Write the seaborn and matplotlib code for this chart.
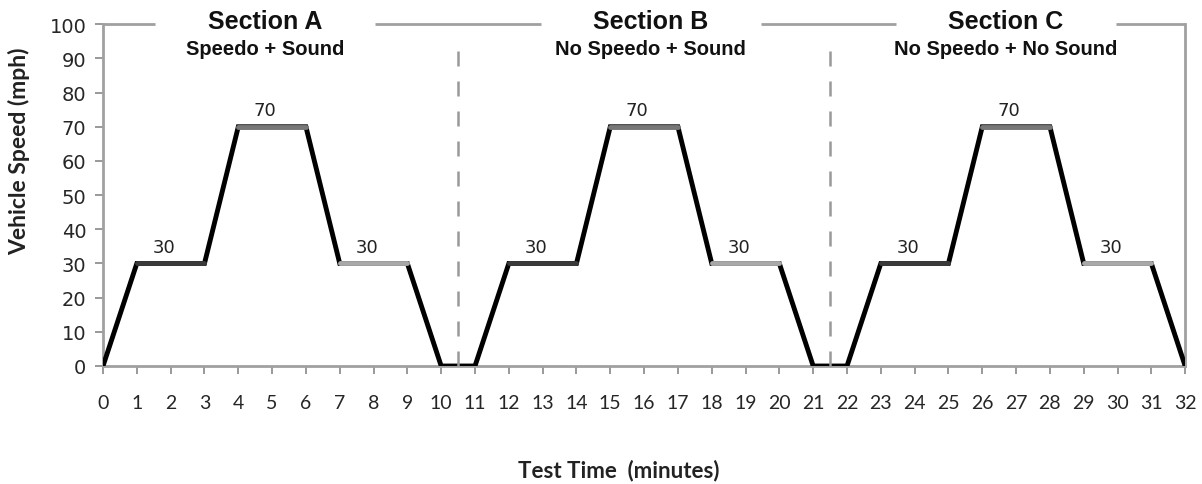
import matplotlib
matplotlib.use("Agg")
import matplotlib.pyplot as plt
import seaborn as sns
import pandas as pd

# speed profile (minutes, mph)
time_min = [0, 1, 3, 4, 6, 7, 9, 10, 11, 12, 14, 15, 17, 18, 20, 21, 22,
            23, 25, 26, 28, 29, 31, 32]
speed_mph = [0, 30, 30, 70, 70, 30, 30, 0, 0, 30, 30, 70, 70, 30, 30, 0, 0,
             30, 30, 70, 70, 30, 30, 0]

# plateau segments drawn in grey shades (start, end, speed, shade)
plateau_start = [1, 4, 7, 12, 15, 18, 23, 26, 29]
plateau_end = [3, 6, 9, 14, 17, 20, 25, 28, 31]
plateau_speed = [30, 70, 30, 30, 70, 30, 30, 70, 30]
plateau_shade = ["#3a3a3a", "#777777", "#a8a8a8"] * 3

section_titles = ["Section A", "Section B", "Section C"]
section_subtitles = ["Speedo + Sound", "No Speedo + Sound", "No Speedo + No Sound"]
section_centers = [4.8, 16.2, 26.7]
section_breaks = [10.5, 21.5]

sns.set_theme(style="white")
plt.rcParams["font.family"] = ["DejaVu Sans"]

fig = plt.figure(figsize=(12.02, 4.85), dpi=100)
ax = fig.add_axes([0.0857, 0.2433, 0.9003, 0.7047])

df = pd.DataFrame({"time": time_min, "speed": speed_mph})
sns.lineplot(data=df, x="time", y="speed", color="black", lw=3.5, ax=ax,
             solid_joinstyle="miter", zorder=3)

for s, e, v, c in zip(plateau_start, plateau_end, plateau_speed, plateau_shade):
    seg = pd.DataFrame({"time": [s, e], "speed": [v, v]})
    sns.lineplot(data=seg, x="time", y="speed", color=c, lw=3.5, ax=ax, zorder=4)
    ax.text((s + e) / 2 - 0.2, v + 2.2, f"{v}", ha="center", va="bottom",
            fontsize=13, color="#222222")

for b in section_breaks:
    ax.axvline(b, ymax=0.96, color="#999999", lw=1.8, ls=(0, (6, 6)),
               zorder=5)

ax.set_xlim(0, 32)
ax.set_ylim(0, 100)
ax.set_xticks(range(0, 33))
ax.set_yticks(range(0, 101, 10))
ax.tick_params(axis="y", direction="out", length=6, width=1.2, color="#888888",
               labelsize=14, pad=6, left=True)
ax.tick_params(axis="x", direction="out", length=6, width=1.2, color="#888888",
               labelsize=14, pad=14, bottom=True)
for lab in ax.get_xticklabels():
    lab.set_family("Lato")

for side in ["left", "bottom", "right"]:
    ax.spines[side].set_visible(True)
    ax.spines[side].set_color("#a0a0a0")
    ax.spines[side].set_linewidth(2)
ax.spines["top"].set_visible(False)

# top frame line with gaps for section headings
gap = 3.25
edges = [0]
for c in section_centers:
    edges += [c - gap, c + gap]
edges.append(32)
for x0, x1 in zip(edges[0::2], edges[1::2]):
    ax.plot([x0, x1], [100, 100], color="#a0a0a0", lw=2, clip_on=False,
            solid_capstyle="butt")

for c, t, st in zip(section_centers, section_titles, section_subtitles):
    ax.text(c, 101, t, ha="center", va="center", fontsize=18,
            fontweight="bold", family="Liberation Sans", color="#111111")
    ax.text(c, 93, st, ha="center", va="center", fontsize=14.5,
            fontweight="bold", family="Liberation Sans", color="#111111")

ax.set_xlabel("Test Time  (minutes)", fontsize=16, fontweight="bold",
              family="Lato", color="#222222")
ax.xaxis.set_label_coords(0.477, -0.27)
ax.set_ylabel("Vehicle Speed (mph)", fontsize=16.5, fontweight="bold",
              family="Lato", color="#222222")
ax.yaxis.set_label_coords(-0.067, 0.63)

fig.savefig("out.png", dpi=100, facecolor="white")
